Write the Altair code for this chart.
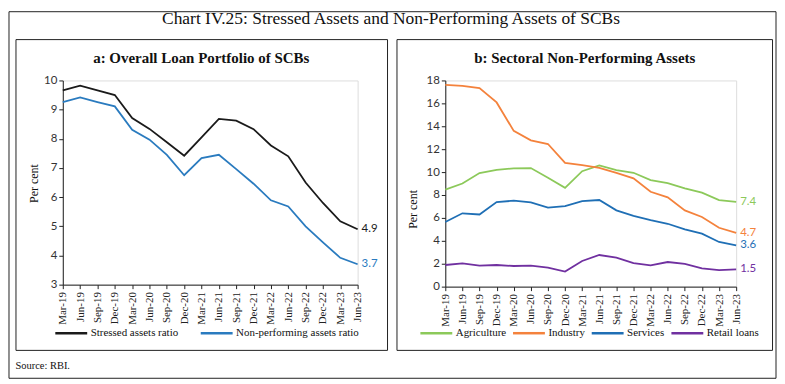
import altair as alt
import pandas as pd

quarters = ["Mar-19", "Jun-19", "Sep-19", "Dec-19", "Mar-20", "Jun-20", "Sep-20", "Dec-20",
            "Mar-21", "Jun-21", "Sep-21", "Dec-21", "Mar-22", "Jun-22", "Sep-22", "Dec-22",
            "Mar-23", "Jun-23"]

stressed = [9.66, 9.82, 9.66, 9.50, 8.71, 8.34, 7.88, 7.42, 8.05, 8.68, 8.62, 8.33, 7.77, 7.40, 6.50, 5.80, 5.17, 4.9]
npa = [9.26, 9.42, 9.26, 9.11, 8.31, 7.97, 7.45, 6.75, 7.34, 7.45, 6.96, 6.46, 5.89, 5.68, 5.00, 4.45, 3.92, 3.7]

agriculture = [8.47, 9.00, 9.92, 10.20, 10.33, 10.35, 9.50, 8.63, 10.08, 10.58, 10.17, 9.94, 9.30, 9.04, 8.58, 8.20, 7.56, 7.4]
industry = [17.62, 17.53, 17.33, 16.08, 13.60, 12.77, 12.45, 10.80, 10.60, 10.37, 9.93, 9.45, 8.28, 7.80, 6.66, 6.08, 5.14, 4.7]
services = [5.64, 6.40, 6.30, 7.38, 7.50, 7.35, 6.89, 7.03, 7.47, 7.56, 6.66, 6.17, 5.81, 5.49, 5.00, 4.62, 3.90, 3.6]
retail = [1.89, 2.03, 1.83, 1.89, 1.80, 1.83, 1.66, 1.31, 2.24, 2.76, 2.53, 2.06, 1.86, 2.15, 1.98, 1.60, 1.45, 1.5]

left_names = ["Stressed assets ratio", "Non-performing assets ratio"]
left_colors = ["#1a1a1a", "#2a7bbf"]
right_names = ["Agriculture", "Industry", "Services", "Retail loans"]
right_colors = ["#8cc95a", "#f4823c", "#1f6fb5", "#7030a0"]

left_ticks = [3, 4, 5, 6, 7, 8, 9, 10]
right_ticks = [0, 2, 4, 6, 8, 10, 12, 14, 16, 18]

chart_title = "Chart IV.25: Stressed Assets and Non-Performing Assets of SCBs"
title_a = "a: Overall Loan Portfolio of SCBs"
title_b = "b: Sectoral Non-Performing Assets"
source_text = "Source: RBI."

SERIF = "Liberation Serif"
SANS = "Lato"

def long_df(names, series, field):
    rows = []
    for n, vals in zip(names, series):
        for q, v in zip(quarters, vals):
            rows.append({"Quarter": q, field: n, "Value": v})
    return pd.DataFrame(rows)

def last_df(names, series, field):
    return pd.DataFrame({"Quarter": [quarters[-1]] * len(names), field: names,
                         "Value": [s[-1] for s in series],
                         "Label": [f"{s[-1]:.1f}" for s in series]})

one = pd.DataFrame({"k": [0]})

def text_mark(txt, x, y, size, weight="normal", align="center", font=SERIF):
    return alt.Chart(pd.DataFrame({"t": [txt]})).mark_text(
        font=font, fontSize=size, fontWeight=weight, align=align, baseline="middle", color="#111"
    ).encode(x=alt.value(x), y=alt.value(y), text="t:N")

def box(x, x2, y, y2):
    return alt.Chart(one).mark_rect(fill="transparent", stroke="#222", strokeWidth=1).encode(
        x=alt.value(x), x2=alt.value(x2), y=alt.value(y), y2=alt.value(y2))

def panel(names, series, colors, field, ydomain, yvals, legx, legy, colpad, title_x, title_y):
    df = long_df(names, series, field)
    ldf = last_df(names, series, field)
    xaxis = alt.Axis(title=None, labelAngle=270, labelFont=SERIF, labelFontSize=11,
                     labelColor="#222", tickSize=4, labelPadding=3, domainColor="#222",
                     tickColor="#222", labelOverlap=False)
    xenc = alt.X("Quarter:O", sort=quarters, scale=alt.Scale(type="point", padding=0), axis=xaxis)
    yaxis = alt.Axis(values=yvals, tickCount=len(yvals), title="Per cent", titleFont=SERIF,
                     titleFontSize=12, titleFontWeight="normal", titleColor="#111",
                     titleX=title_x, titleY=title_y, labelFont=SANS, labelFontSize=11.5,
                     labelColor="#333", labelPadding=2, labelOverlap=False, labelFlush=False,
                     tickSize=4, domainColor="#222", tickColor="#222", grid=False)
    yenc = alt.Y("Value:Q", scale=alt.Scale(domain=ydomain, nice=False, zero=False), axis=yaxis)
    scale = alt.Scale(domain=names, range=colors)
    color = alt.Color(f"{field}:N", sort=names, scale=scale,
                      legend=alt.Legend(title=None, orient="none", legendX=legx, legendY=legy,
                                        direction="horizontal", symbolType="stroke", symbolSize=1024,
                                        symbolStrokeWidth=2.5, labelFont=SERIF, labelFontSize=11,
                                        labelColor="#111", labelOffset=2, columnPadding=colpad))
    lines = alt.Chart(df).mark_line(strokeWidth=1.8).encode(x=xenc, y=yenc, color=color)
    labels = alt.Chart(ldf).mark_text(align="left", dx=4, font=SANS, fontSize=11.5,
                                      baseline="middle").encode(
        x=xenc, y=yenc, text="Label:N", color=color)
    return lines, labels

W1, H1 = 296, 205
W2, H2 = 292, 207

lines_a, labels_a = panel(left_names, [stressed, npa], left_colors, "Series", [3, 10], left_ticks,
                          -9, 236, 17, -22, 103)
left = alt.layer(
    box(-54, 716, -69, 299),
    box(-47, 326, -41, 271),
    text_mark(chart_title, 329.5, -62, 17.5),
    text_mark(title_a, 139, -23, 15, weight="bold"),
    text_mark(source_text, -47.5, 287, 10.5, align="left"),
    lines_a, labels_a,
).properties(width=W1, height=H1)

lines_b, labels_b = panel(right_names, [agriculture, industry, services, retail], right_colors, "Sector",
                          [0, 18], right_ticks, -26.5, 236, 1, -26, 129)
right = alt.layer(
    box(-48.5, 328.5, -41, 271),
    text_mark(title_b, 140, -23, 15, weight="bold"),
    lines_b, labels_b,
).properties(width=W2, height=H2)

chart = alt.hconcat(left, right, spacing=88, bounds="flush").resolve_scale(
    color="independent", y="independent", x="independent"
).properties(padding=0).configure_view(stroke=None).configure(background="white")

chart.save("out.html", embed_options={"renderer": "svg", "actions": False})
